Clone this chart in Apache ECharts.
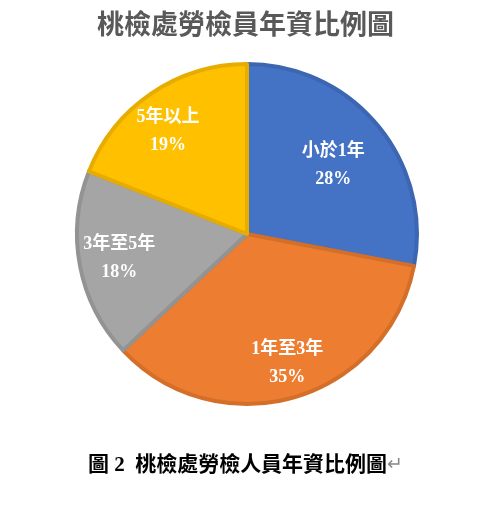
<!DOCTYPE html>
<html>
<head>
<meta charset="utf-8">
<script src="https://cdn.jsdelivr.net/npm/echarts@6/dist/echarts.min.js"></script>
<style>
  html, body { margin: 0; padding: 0; background: #fff; }
  #main { width: 491px; height: 505px; }
</style>
</head>
<body>
<div id="main"></div>
<script>
var categories = ['小於1年', '1年至3年', '3年至5年', '5年以上'];
var values = [28, 35, 18, 19];
var fillColors = ['#4472C4', '#ED7D31', '#A5A5A5', '#FFC000'];
var edgeColors = ['#3C66B1', '#D46F2A', '#939393', '#E6AC00'];

var serif = '"Liberation Serif", "Noto Sans CJK TC", serif';

var pieData = [];
var labelData = [];
for (var i = 0; i < categories.length; i++) {
  pieData.push({
    name: categories[i],
    value: values[i],
    itemStyle: { color: fillColors[i], borderColor: edgeColors[i] }
  });
  labelData.push({ name: categories[i], value: values[i] });
}

var chart = echarts.init(document.getElementById('main'));
chart.setOption({
  backgroundColor: '#fff',
  animation: false,
  title: {
    text: '桃檢處勞檢員年資比例圖',
    left: 'center',
    top: 9,
    textStyle: {
      fontFamily: serif,
      fontSize: 27,
      fontWeight: 'bold',
      color: '#595959'
    }
  },
  graphic: [
    {
      type: 'text',
      left: 'center',
      top: 455,
      style: {
        text: '{a|圖 2  桃檢處勞檢人員年資比例圖}{b|↵}',
        rich: {
          a: { fontFamily: serif, fontSize: 21, fontWeight: 'bold', fill: '#000' },
          b: { fontFamily: serif, fontSize: 19, fill: '#888' }
        }
      }
    }
  ],
  series: [
    {
      name: '年資',
      type: 'pie',
      center: [247, 234],
      radius: [0, 170],
      startAngle: 90,
      clockwise: true,
      silent: true,
      itemStyle: { borderWidth: 4 },
      label: { show: false },
      labelLine: { show: false },
      data: pieData
    },
    {
      // 只放標籤
      name: '標籤',
      type: 'pie',
      center: [247, 234],
      radius: [84, 170],
      startAngle: 90,
      clockwise: true,
      silent: true,
      itemStyle: { color: 'rgba(0,0,0,0)', borderWidth: 0 },
      label: {
        show: true,
        position: 'inside',
        formatter: '{b}\n{d}%',
        fontFamily: serif,
        fontSize: 18,
        fontWeight: 'bold',
        lineHeight: 28,
        color: '#fff'
      },
      labelLine: { show: false },
      labelLayout: function (params) {
        if (params.dataIndex === 0) return { dx: -14, dy: 14 };
        if (params.dataIndex === 1) return { dx: 4, dy: 5 };
        if (params.dataIndex === 3) return { dx: -6, dy: 5 };
        return {};
      },
      data: labelData
    }
  ]
});
</script>
</body>
</html>
